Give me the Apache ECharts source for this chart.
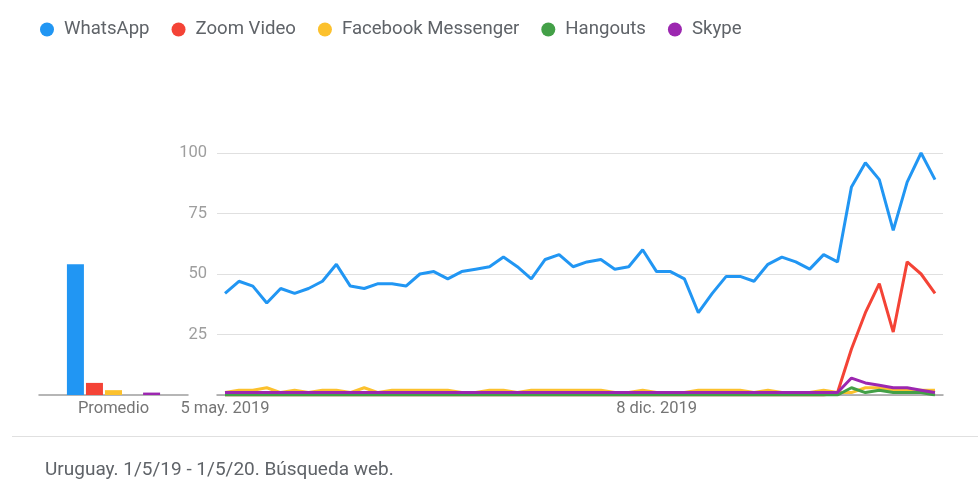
<!DOCTYPE html>
<html>
<head>
<meta charset="utf-8">
<script src="https://cdn.jsdelivr.net/npm/echarts@6/dist/echarts.min.js"></script>
<style>html,body{margin:0;padding:0;background:#fff}#c{width:980px;height:499px}</style>
</head>
<body>
<div id="c"></div>
<script>
const seriesNames = ['WhatsApp', 'Zoom Video', 'Facebook Messenger', 'Hangouts', 'Skype'];
const colors = ['#2196f3', '#f44336', '#fcc12d', '#43a047', '#9c27b0'];
const tickIndex = [0, 31];
const tickLabels = ['5 may. 2019', '8 dic. 2019'];
const yTicks = [0, 25, 50, 75, 100];
const barCategory = ['Promedio'];
const averages = [54, 5, 2, 0, 1];

const whatsapp = [42,47,45,38,44,42,44,47,54,45,44,46,46,45,50,51,48,51,52,53,57,53,48,56,58,53,55,56,52,53,60,51,51,48,34,42,49,49,47,54,57,55,52,58,55,86,96,89,68,88,100,89];
const zoomVideo = [0,0,0,0,0,0,0,0,0,0,0,0,0,0,0,0,0,0,0,0,0,0,0,0,0,0,0,0,0,0,0,0,0,0,0,0,0,0,0,0,0,0,0,0,1,19,34,46,26,55,50,42];
const messenger = [1,2,2,3,1,2,1,2,2,1,3,1,2,2,2,2,2,1,1,2,2,1,2,2,2,2,2,2,1,1,2,1,1,1,2,2,2,2,1,2,1,1,1,2,1,1,3,3,2,2,2,2];
const hangouts = [0,0,0,0,0,0,0,0,0,0,0,0,0,0,0,0,0,0,0,0,0,0,0,0,0,0,0,0,0,0,0,0,0,0,0,0,0,0,0,0,0,0,0,0,0,3,1,2,1,1,1,0];
const skype = [1,1,1,1,1,1,1,1,1,1,1,1,1,1,1,1,1,1,1,1,1,1,1,1,1,1,1,1,1,1,1,1,1,1,1,1,1,1,1,1,1,1,1,1,1,7,5,4,3,3,2,1];

const lineData = [whatsapp, zoomVideo, messenger, hangouts, skype];
const n = whatsapp.length;
const font = 'Roboto';

const chart = echarts.init(document.getElementById('c'));
const series = [];
seriesNames.forEach((name, i) => {
  series.push({
    name, type: 'bar', xAxisIndex: 0, yAxisIndex: 0,
    data: [averages[i]], barWidth: 17, barGap: '12%',
    itemStyle: { color: colors[i] }, silent: true
  });
});
seriesNames.forEach((name, i) => {
  series.push({
    name, type: 'line', xAxisIndex: 1, yAxisIndex: 1,
    data: lineData[i].map((v, k) => [k, v]),
    symbol: 'none', lineStyle: { width: 3, color: colors[i] },
    itemStyle: { color: colors[i] }, silent: true
  });
});

chart.setOption({
  animation: false,
  textStyle: { fontFamily: font },
  color: colors,
  legend: {
    data: seriesNames, icon: 'circle', itemWidth: 14, itemHeight: 14,
    itemGap: 22, left: 35, top: 15,
    textStyle: { fontSize: 18.6, color: '#5f6368', fontFamily: font, padding: [0, 0, 0, 5] }
  },
  title: {
    text: 'Uruguay. 1/5/19 - 1/5/20. Búsqueda web.',
    left: 40, top: 456,
    textStyle: { fontSize: 19, fontWeight: 'normal', color: '#5f6368', fontFamily: font }
  },
  graphic: [{
    type: 'line', shape: { x1: 12, y1: 436.5, x2: 978, y2: 436.5 },
    style: { stroke: '#e0e0e0', lineWidth: 1 }
  }],
  grid: [
    { left: 39, width: 149, top: 153, bottom: 104 },
    { left: 217, right: 37, top: 153, bottom: 104 }
  ],
  xAxis: [
    {
      gridIndex: 0, type: 'category', data: barCategory,
      axisLine: { lineStyle: { color: '#9e9e9e', width: 1.5 } },
      axisTick: { show: false },
      axisLabel: { fontSize: 16.5, color: '#757575', margin: 5, fontFamily: font }
    },
    {
      gridIndex: 1, type: 'value', min: -0.575, max: n - 1 + 0.575,
      splitLine: { show: false }, axisTick: { show: false },
      axisLine: { onZero: false, lineStyle: { color: '#9e9e9e', width: 1.5 } },
      axisLabel: {
        customValues: tickIndex, fontSize: 16.5, color: '#757575', margin: 5, fontFamily: font,
        formatter: v => { const j = tickIndex.indexOf(Math.round(v)); return j >= 0 ? tickLabels[j] : ''; }
      }
    }
  ],
  yAxis: [
    { gridIndex: 0, type: 'value', min: 0, max: 100, show: false },
    {
      gridIndex: 1, type: 'value', min: yTicks[0], max: yTicks[yTicks.length - 1], interval: 25,
      axisLine: { show: false }, axisTick: { show: false },
      splitLine: { lineStyle: { color: '#e0e0e0', width: 1 } },
      axisLabel: {
        fontSize: 16.5, color: '#9e9e9e', margin: 10, fontFamily: font,
        formatter: v => (v === 0 ? '' : String(v))
      }
    }
  ],
  series
});
</script>
</body>
</html>
